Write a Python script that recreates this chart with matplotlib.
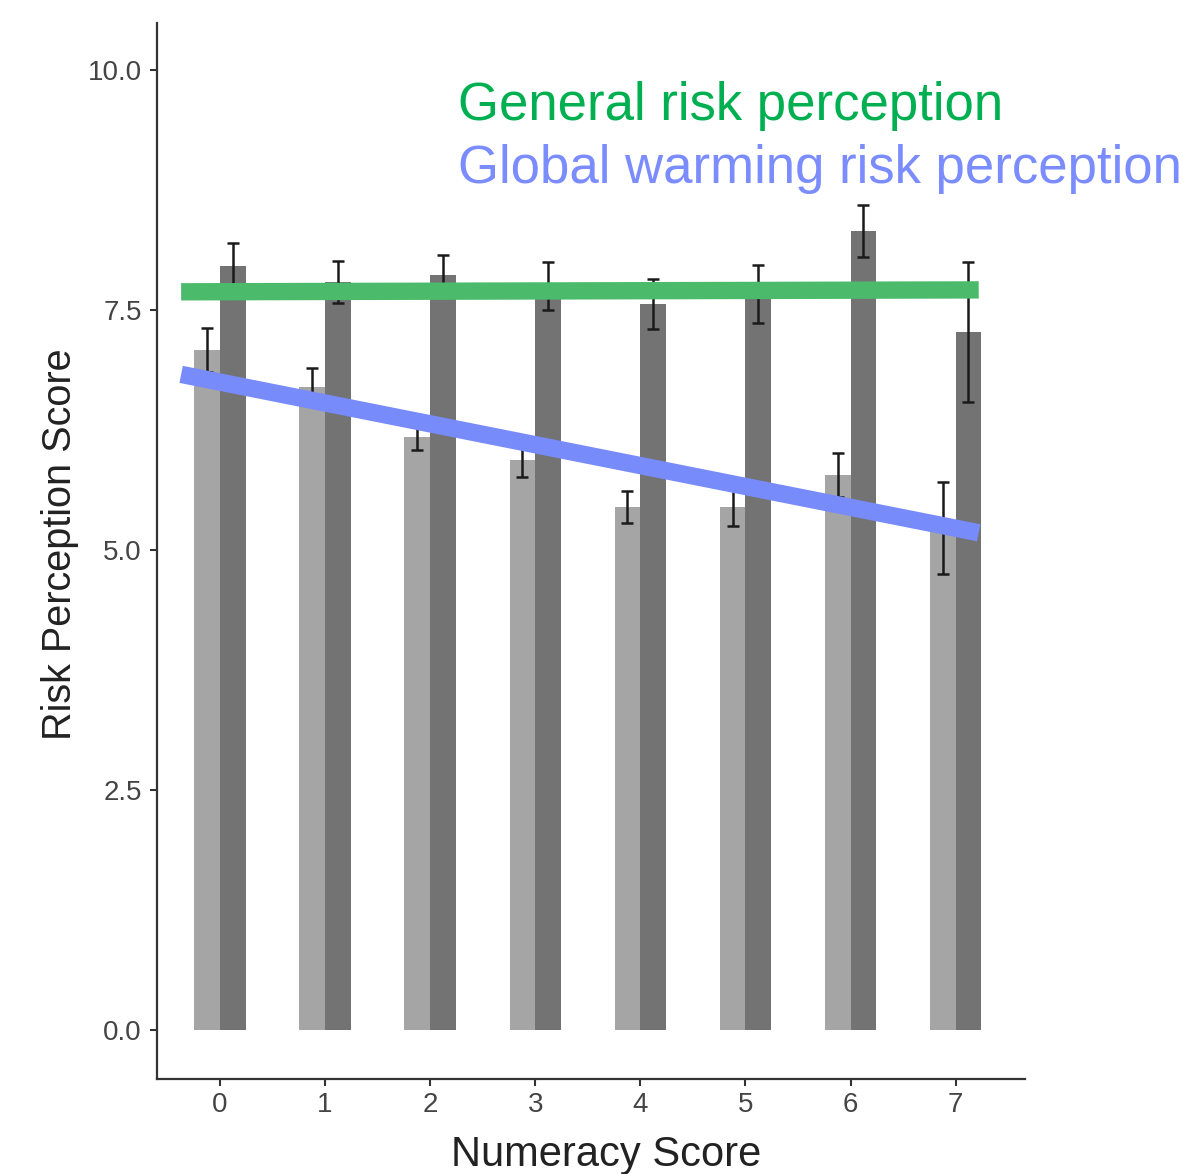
import matplotlib
matplotlib.use("Agg")
import matplotlib.pyplot as plt
import numpy as np

plt.rcParams['font.family'] = ['Liberation Sans', 'DejaVu Sans']

# Data
numeracy = [0, 1, 2, 3, 4, 5, 6, 7]
global_warming = [7.08, 6.70, 6.18, 5.94, 5.45, 5.45, 5.78, 5.23]
global_warming_err = [0.23, 0.20, 0.14, 0.18, 0.17, 0.20, 0.23, 0.48]
general = [7.96, 7.79, 7.86, 7.75, 7.56, 7.67, 8.32, 7.27]
general_err = [0.24, 0.22, 0.21, 0.25, 0.26, 0.30, 0.27, 0.73]

trend_x = [-0.37, 7.22]
general_trend = [7.69, 7.71]
warming_trend = [6.83, 5.18]

yticks = [0.0, 2.5, 5.0, 7.5, 10.0]
ytick_labels = ["0.0", "2.5", "5.0", "7.5", "10.0"]

fig = plt.figure(figsize=(11.9, 11.74), dpi=100)
ax = fig.add_axes([0.1319, 0.0809, 0.7294, 0.8995])

x = np.array(numeracy)
w = 0.245
ax.bar(x - w / 2, global_warming, width=w, color='#a5a5a5', zorder=2)
ax.bar(x + w / 2, general, width=w, color='#737373', zorder=2)
ax.errorbar(x - w / 2, global_warming, yerr=global_warming_err, fmt='none',
            ecolor='#1a1a1a', elinewidth=1.8, capsize=4, capthick=1.8, zorder=3)
ax.errorbar(x + w / 2, general, yerr=general_err, fmt='none',
            ecolor='#1a1a1a', elinewidth=1.8, capsize=4, capthick=1.8, zorder=3)

ax.plot(trend_x, general_trend, color='#4bbb6b', lw=12.5, solid_capstyle='butt', zorder=4)
ax.plot(trend_x, warming_trend, color='#788bfa', lw=12.5, solid_capstyle='butt', zorder=4)

ax.set_xlim(-0.6, 7.66)
ax.set_ylim(-0.51, 10.49)
ax.set_xticks(numeracy)
ax.set_xticklabels([str(v) for v in numeracy])
ax.set_yticks(yticks)
ax.set_yticklabels(ytick_labels)

for s in ['top', 'right']:
    ax.spines[s].set_visible(False)
for s in ['left', 'bottom']:
    ax.spines[s].set_color('#333333')
    ax.spines[s].set_linewidth(1.6)
ax.tick_params(axis='both', colors='#333333', labelcolor='#444444',
               labelsize=20, length=5, width=1.5)
ax.tick_params(axis='y', pad=6)
ax.tick_params(axis='x', pad=4)

ax.set_xlabel('Numeracy Score', fontsize=30, color='#222222')
ax.set_ylabel('Risk Perception Score', fontsize=28.5, color='#222222')
ax.xaxis.set_label_coords(0.518, -0.053)
ax.yaxis.set_label_coords(-0.09, 0.506)

fig.text(458 / 1190, 1 - 120 / 1174, 'General risk perception', color='#00b050',
         fontsize=38, ha='left', va='baseline')
fig.text(458 / 1190, 1 - 183 / 1174, 'Global warming risk perception', color='#7b8cff',
         fontsize=38, ha='left', va='baseline')

fig.savefig('out.png', dpi=100)
